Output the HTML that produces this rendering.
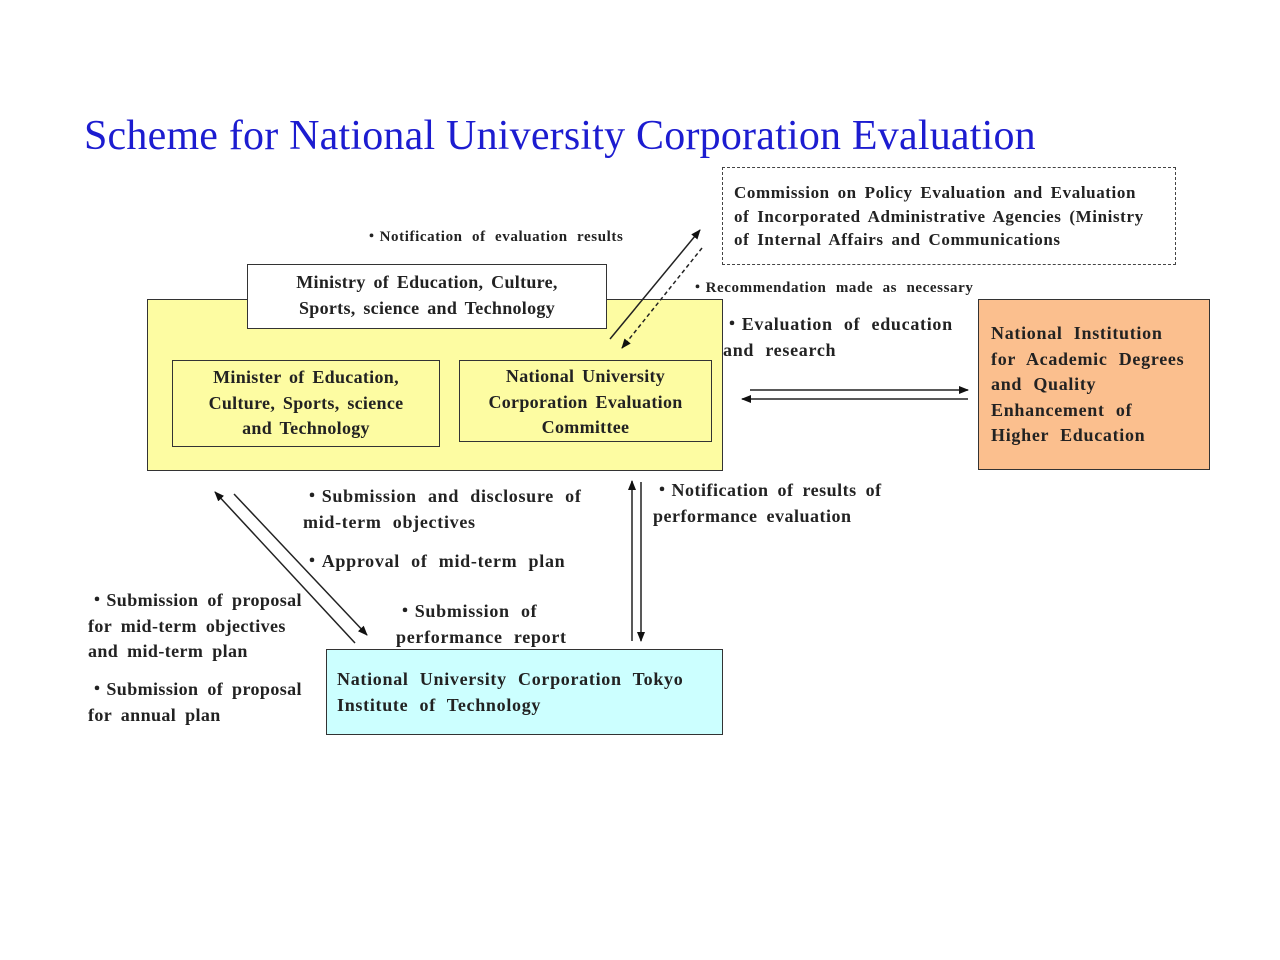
<!DOCTYPE html>
<html><head><meta charset="utf-8"><style>
body{margin:0;width:1280px;height:960px;background:#fff;position:relative;overflow:hidden;font-family:"Liberation Serif",serif;font-weight:bold;color:#222}
.a{position:absolute;white-space:nowrap}
.box{position:absolute;box-sizing:border-box;border:1.5px solid #333}
.t{font-size:18px;line-height:25.5px;letter-spacing:0.7px;word-spacing:6px}
.s{font-size:15px;letter-spacing:0.6px;word-spacing:5px}
</style></head><body>
<div class="a" style="left:84px;top:112px;font-size:42px;font-weight:normal;color:#1c1cd0;letter-spacing:0.2px">Scheme for National University Corporation Evaluation</div>

<div class="box" style="left:147px;top:299px;width:576px;height:172px;background:#fdfca2"></div>
<div class="box" style="left:247px;top:264px;width:360px;height:65px;background:#fff"></div>
<div class="a t" style="left:247px;top:270px;width:360px;text-align:center;white-space:normal;letter-spacing:0.3px;word-spacing:3px">Ministry of Education, Culture,<br>Sports, science and Technology</div>
<div class="box" style="left:172px;top:360px;width:268px;height:87px;background:#fdfca2"></div>
<div class="a t" style="left:172px;top:365px;width:268px;text-align:center;letter-spacing:0.3px;word-spacing:3px">Minister of Education,<br>Culture, Sports, science<br>and Technology</div>
<div class="box" style="left:459px;top:360px;width:253px;height:82px;background:#fdfca2"></div>
<div class="a t" style="left:459px;top:364px;width:253px;text-align:center;letter-spacing:0.3px;word-spacing:3px">National University<br>Corporation Evaluation<br>Committee</div>

<div class="box" style="left:722px;top:167px;width:454px;height:98px;border:1.5px dashed #444;background:#fff"></div>
<div class="a" style="left:734px;top:181px;font-size:17px;line-height:23.5px;letter-spacing:0.6px;word-spacing:3px">Commission on Policy Evaluation and Evaluation<br>of Incorporated Administrative Agencies (Ministry<br>of Internal Affairs and Communications</div>

<div class="box" style="left:978px;top:299px;width:232px;height:171px;background:#fbbf8e"></div>
<div class="a t" style="left:991px;top:321px">National Institution<br>for Academic Degrees<br>and Quality<br>Enhancement of<br>Higher Education</div>

<div class="box" style="left:326px;top:649px;width:397px;height:86px;background:#ccffff"></div>
<div class="a t" style="left:337px;top:667px">National University Corporation Tokyo<br>Institute of Technology</div>

<div class="a s" style="left:364px;top:225px">・Notification of evaluation results</div>
<div class="a s" style="left:690px;top:276px">・Recommendation made as necessary</div>
<div class="a t" style="left:723px;top:312px">・Evaluation of education<br>and research</div>
<div class="a t" style="left:303px;top:484px">・Submission and disclosure of<br>mid-term objectives</div>
<div class="a t" style="left:303px;top:549px">・Approval of mid-term plan</div>
<div class="a t" style="left:88px;top:588px;letter-spacing:0.4px;word-spacing:4px">・Submission of proposal<br>for mid-term objectives<br>and mid-term plan</div>
<div class="a t" style="left:88px;top:677px;letter-spacing:0.4px;word-spacing:4px">・Submission of proposal<br>for annual plan</div>
<div class="a t" style="left:396px;top:599px">・Submission of<br>performance report</div>
<div class="a t" style="left:653px;top:478px;letter-spacing:0.5px;word-spacing:4px">・Notification of results of<br>performance evaluation</div>

<svg width="1280" height="960" style="position:absolute;left:0;top:0">
<defs><marker id="m" markerWidth="10" markerHeight="8" refX="9" refY="4" orient="auto" markerUnits="userSpaceOnUse"><path d="M0,0 L10,4 L0,8z" fill="#111"/></marker></defs>
<g stroke="#222" stroke-width="1.5" fill="none">
<line x1="610" y1="339" x2="700" y2="230" marker-end="url(#m)"/>
<line x1="702" y1="248" x2="622" y2="348" stroke-dasharray="4,3" marker-end="url(#m)"/>
<line x1="750" y1="390" x2="968" y2="390" marker-end="url(#m)"/>
<line x1="968" y1="399" x2="742" y2="399" marker-end="url(#m)"/>
<line x1="355" y1="643" x2="215" y2="492" marker-end="url(#m)"/>
<line x1="234" y1="494" x2="367" y2="635" marker-end="url(#m)"/>
<line x1="632" y1="641" x2="632" y2="481" marker-end="url(#m)"/>
<line x1="641" y1="482" x2="641" y2="641" marker-end="url(#m)"/>
</g></svg>
</body></html>
